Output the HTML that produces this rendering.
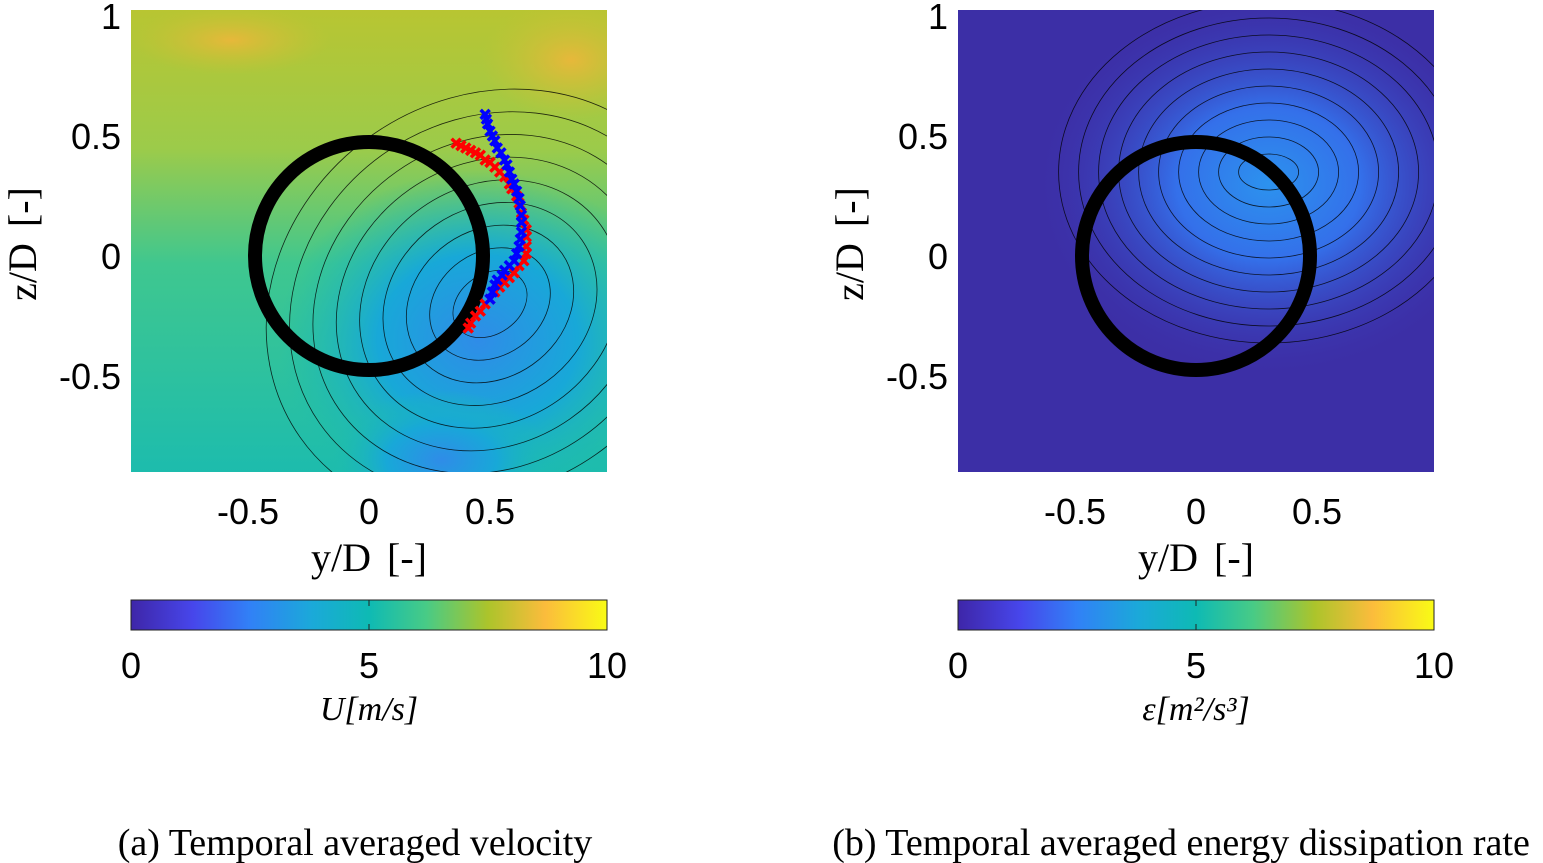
<!DOCTYPE html>
<html><head><meta charset="utf-8"><style>
body{margin:0;background:#fff;width:1543px;height:863px;overflow:hidden}
svg{display:block;font-family:"Liberation Sans",sans-serif}
.serif{font-family:"Liberation Serif",serif}
</style></head><body>
<svg id="fig" width="1543" height="863" viewBox="0 0 1543 863">
<defs>
<linearGradient id="cmap" x1="0" x2="1" y1="0" y2="0">
<stop offset="0" stop-color="#3e26a8"/><stop offset="0.13" stop-color="#4746eb"/><stop offset="0.25" stop-color="#3181f6"/>
<stop offset="0.38" stop-color="#1ba9d9"/><stop offset="0.5" stop-color="#0ebab4"/><stop offset="0.62" stop-color="#48cb86"/>
<stop offset="0.75" stop-color="#acc42b"/><stop offset="0.87" stop-color="#fbbc3c"/><stop offset="1" stop-color="#f9fb15"/>
</linearGradient>
<linearGradient id="leftBg" x1="0" x2="0" y1="0" y2="1">
<stop offset="0" stop-color="#b8c532"/><stop offset="0.3" stop-color="#9ccb4a"/><stop offset="0.55" stop-color="#3fc78f"/><stop offset="1" stop-color="#1dbcad"/>
</linearGradient>
<radialGradient id="blueBlob" cx="0.5" cy="0.5" r="0.5">
<stop offset="0" stop-color="#2f8ce8"/><stop offset="0.5" stop-color="#18a8d8"/><stop offset="1" stop-color="#1bbcb0" stop-opacity="0"/>
</radialGradient>
<radialGradient id="orange" cx="0.5" cy="0.5" r="0.5">
<stop offset="0" stop-color="#e7b83a"/><stop offset="1" stop-color="#c9c234" stop-opacity="0"/>
</radialGradient>
<radialGradient id="epsBlob" cx="0.5" cy="0.5" r="0.5">
<stop offset="0" stop-color="#2c92ee"/><stop offset="0.4" stop-color="#3470ea"/><stop offset="1" stop-color="#3b32b0" stop-opacity="0"/>
</radialGradient>
<clipPath id="clipL"><rect x="131" y="10" width="476" height="462"/></clipPath>
<clipPath id="clipR"><rect x="958" y="10" width="476" height="462"/></clipPath>
</defs>
<g id="left"></g>
<g id="right"></g>
</svg>
<script>
const xTicks=[-0.5,0,0.5];
const yTicks=[1,0.5,0,-0.5];
const cbTicks=[0,5,10];
const redY=[0.36,0.38,0.40,0.42,0.44,0.46,0.48,0.50,0.52,0.54,0.56,0.58,0.59,0.61,0.62,0.63,0.64,0.65,0.65,0.65,0.65,0.64,0.62,0.60,0.58,0.56,0.54,0.52,0.50,0.48,0.46,0.44,0.42,0.41];
const redZ=[0.47,0.46,0.45,0.44,0.43,0.42,0.40,0.39,0.37,0.35,0.33,0.30,0.28,0.25,0.22,0.18,0.15,0.11,0.08,0.04,0.01,-0.02,-0.04,-0.07,-0.09,-0.11,-0.13,-0.15,-0.18,-0.20,-0.23,-0.25,-0.28,-0.30];
const blueY=[0.48,0.485,0.49,0.50,0.51,0.52,0.53,0.545,0.56,0.57,0.58,0.59,0.60,0.61,0.62,0.625,0.63,0.63,0.63,0.625,0.62,0.61,0.60,0.58,0.56,0.55,0.53,0.52,0.51,0.50];
const blueZ=[0.59,0.57,0.55,0.52,0.50,0.48,0.45,0.43,0.40,0.38,0.35,0.32,0.30,0.27,0.24,0.21,0.17,0.14,0.10,0.07,0.04,0.01,-0.02,-0.04,-0.06,-0.08,-0.10,-0.12,-0.15,-0.18];
const NS="http://www.w3.org/2000/svg";
function el(p,t,a,txt){const e=document.createElementNS(NS,t);for(const k in a)e.setAttribute(k,a[k]);if(txt!==undefined)e.textContent=txt;p.appendChild(e);return e;}
function panel(g,x0,isLeft){
 const sx=v=>x0+238+v*242, sz=v=>256-v*240;
 const c=el(g,'g',{'clip-path':isLeft?'url(#clipL)':'url(#clipR)'});
 
 
 if(isLeft){
  el(c,'rect',{x:x0,y:10,width:476,height:462,fill:'url(#leftBg)'});
  el(c,'ellipse',{cx:x0+440,cy:60,rx:90,ry:60,fill:'url(#orange)'});
  el(c,'ellipse',{cx:x0+100,cy:40,rx:100,ry:35,fill:'url(#orange)'});
  el(c,'ellipse',{cx:sx(0.45),cy:sz(-0.35),rx:200,ry:170,fill:'url(#blueBlob)'});
  el(c,'ellipse',{cx:sx(0.3),cy:sz(-0.85),rx:110,ry:70,fill:'url(#blueBlob)'});
  for(let i=0;i<9;i++)el(c,'ellipse',{cx:sx(0.5),cy:sz(-0.2),rx:40+i*24,ry:30+i*22,fill:'none',stroke:'#000','stroke-width':0.8,opacity:0.8,transform:`rotate(-35 ${sx(0.5)} ${sz(-0.2)})`});
 }else{
  el(c,'rect',{x:x0,y:10,width:476,height:462,fill:'#3c2fa6'});
  el(c,'ellipse',{cx:sx(0.3),cy:sz(0.3),rx:230,ry:190,fill:'url(#epsBlob)'});
  for(let i=0;i<10;i++)el(c,'ellipse',{cx:sx(0.3),cy:sz(0.35),rx:30+i*20,ry:18+i*17,fill:'none',stroke:'#000','stroke-width':0.8,opacity:0.8});
 }
 const circ=el(g,'circle',{cx:sx(0),cy:sz(0),r:114,fill:'none',stroke:'#000','stroke-width':14});
 
 
 if(isLeft){
  const ms=(ys,zs,col,name)=>{const mg=el(g,'g',{stroke:col,'stroke-width':3.5});
   
   
   ys.forEach((y,i)=>{const X=sx(y),Y=sz(zs[i]);el(mg,'path',{d:`M${X-4.5} ${Y-4.5}L${X+4.5} ${Y+4.5}M${X-4.5} ${Y+4.5}L${X+4.5} ${Y-4.5}`});});};
  ms(redY,redZ,'#f00','red-markers');ms(blueY,blueZ,'#00f','blue-markers');
 }
 xTicks.forEach(v=>{const t=el(g,'text',{x:sx(v),y:524,'font-size':36,'text-anchor':'middle'},String(v));
  });
 yTicks.forEach(v=>{const t=el(g,'text',{x:x0-10,y:sz(v)+13,'font-size':36,'text-anchor':'end'},String(v));
  });
 const xl=el(g,'text',{x:x0+238,y:571,'font-size':40,'text-anchor':'middle',class:'serif','word-spacing':'6'},'y/D [-]');
 
 const yl=el(g,'text',{x:0,y:0,'font-size':40,'text-anchor':'middle',class:'serif','word-spacing':'6',transform:`translate(${x0-95},${sz(0)-12}) rotate(-90)`},'z/D [-]');
 
 const cb=el(g,'rect',{x:x0,y:600,width:476,height:30,fill:'url(#cmap)',stroke:'#222','stroke-width':1});
 
 cbTicks.forEach(v=>{const X=x0+v/10*476;el(g,'line',{x1:X,x2:X,y1:600,y2:606,stroke:'#222'});el(g,'line',{x1:X,x2:X,y1:624,y2:630,stroke:'#222'});
  const t=el(g,'text',{x:X,y:678,'font-size':36,'text-anchor':'middle'},String(v));
  });
 const lab=el(g,'text',{x:x0+238,y:720,'font-size':34,'text-anchor':'middle',class:'serif','font-style':'italic'},isLeft?'U[m/s]':'ε[m²/s³]');
 
}
panel(document.getElementById('left'),131,true);
panel(document.getElementById('right'),958,false);
const svg=document.getElementById('fig');
const ca=el(svg,'text',{x:355,y:855,'font-size':38,'text-anchor':'middle',class:'serif'},'(a) Temporal averaged velocity');

const cb2=el(svg,'text',{x:1181,y:855,'font-size':38,'text-anchor':'middle',class:'serif'},'(b) Temporal averaged energy dissipation rate');

</script>
</body></html>
